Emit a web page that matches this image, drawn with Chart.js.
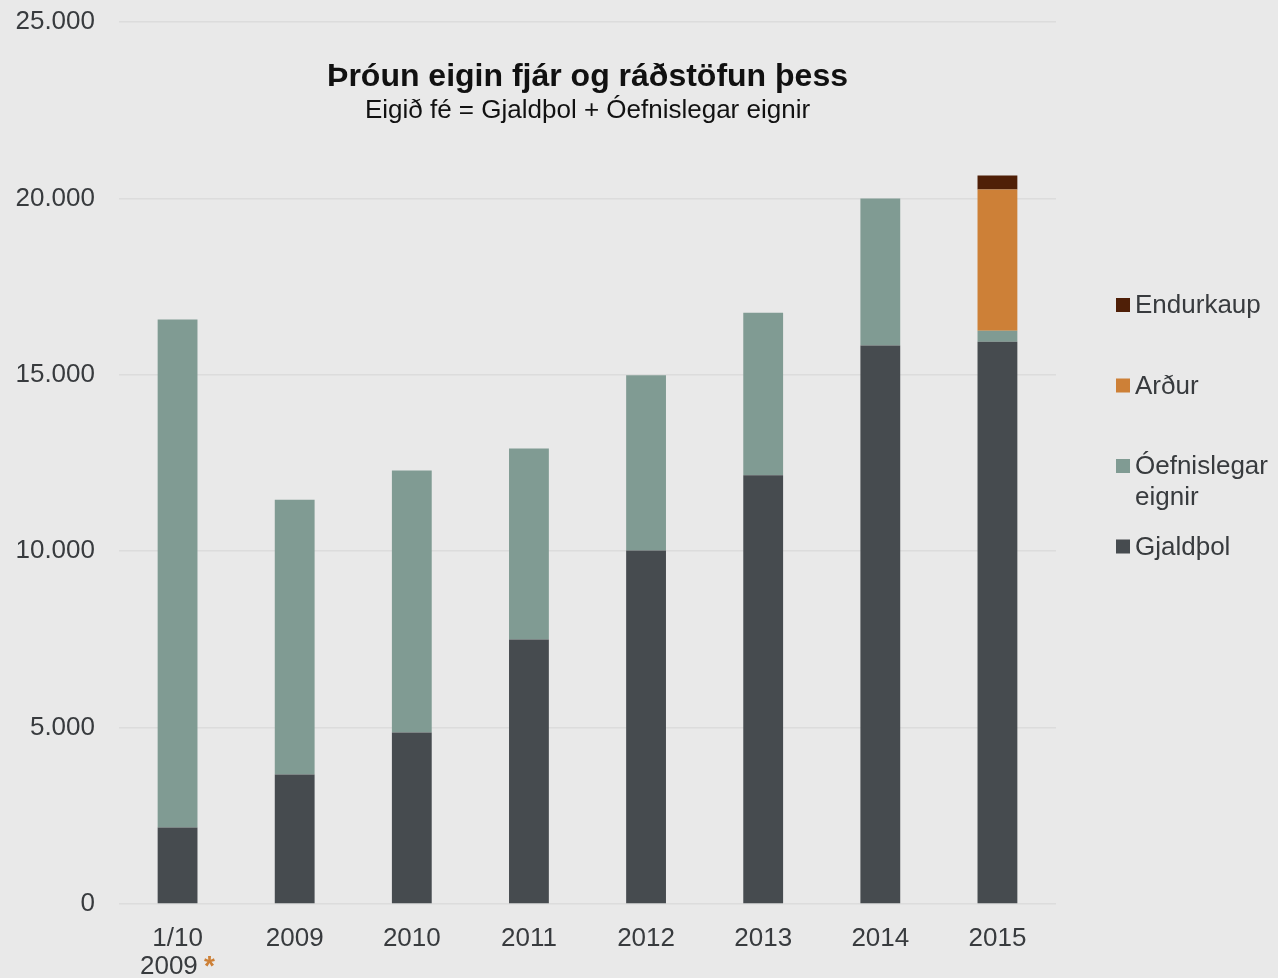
<!DOCTYPE html>
<html>
<head>
<meta charset="utf-8">
<script src="https://cdn.jsdelivr.net/npm/chart.js@4"></script>
<style>
  html, body { margin: 0; padding: 0; background: #e9e9e9; }
  #wrap { width: 1278px; height: 978px; position: relative; }
</style>
</head>
<body>
<div id="wrap"><canvas id="c"></canvas></div>
<script>
// ---- data ----
const categories = [["1/10", "2009 *"], "2009", "2010", "2011", "2012", "2013", "2014", "2015"];
const gjaldthol   = [2170, 3670, 4860, 7500, 10020, 12150, 15830, 15940];
const oefnislegar = [14400, 7790, 7430, 5410, 4970, 4610, 4170, 310];
const ardur       = [null, null, null, null, null, null, null, 4000];
const endurkaup   = [null, null, null, null, null, null, null, 400];
const seriesNames = ["Gjaldþol", "Óefnislegar eignir", "Arður", "Endurkaup"];
const yMax = 25000, yStep = 5000;
const titleText = "Þróun eigin fjár og ráðstöfun þess";
const subtitleText = "Eigið fé = Gjaldþol + Óefnislegar eignir";

// ---- styles ----
const BG = "#e9e9e9";
const FONT = "'Liberation Sans', Arial, sans-serif";
const TEXT = "#383b3e";
const colors = ["#464b4f", "#809b93", "#cd8037", "#4f1f07"];

const titlePlugin = {
  id: "titlePlugin",
  afterDraw(chart) {
    const ctx = chart.ctx, ca = chart.chartArea;
    const cx = (ca.left + ca.right) / 2;
    ctx.save();
    ctx.textAlign = "center";
    ctx.textBaseline = "middle";
    ctx.fillStyle = "#111";
    ctx.font = "bold 32px " + FONT;
    ctx.fillText(titleText, cx, 77);
    ctx.font = "26px " + FONT;
    ctx.fillText(subtitleText, cx, 111);
    ctx.restore();
  }
};

const legendPlugin = {
  id: "legendPlugin",
  afterDraw(chart) {
    const ctx = chart.ctx;
    const ds = chart.data.datasets;
    const x0 = 1116, box = 14, tx = 1135, maxW = 1278 - tx - 2;
    const startY = 305, step = 80.5, lineH = 31;
    ctx.save();
    ctx.font = "26px " + FONT;
    ctx.textBaseline = "middle";
    ctx.textAlign = "left";
    for (let k = 0; k < ds.length; k++) {
      const d = ds[ds.length - 1 - k];
      const cy = startY + k * step;
      ctx.fillStyle = d.backgroundColor;
      ctx.fillRect(x0, cy - box / 2, box, box);
      const words = d.label.split(" ");
      const lines = [];
      let cur = "";
      for (const w of words) {
        const t = cur ? cur + " " + w : w;
        if (cur && ctx.measureText(t).width > maxW) { lines.push(cur); cur = w; }
        else cur = t;
      }
      if (cur) lines.push(cur);
      ctx.fillStyle = TEXT;
      lines.forEach((ln, i) => ctx.fillText(ln, tx, cy + 1 + i * lineH));
    }
    ctx.restore();
  }
};

const asteriskPlugin = {
  id: "asteriskPlugin",
  afterDraw(chart) {
    const sc = chart.scales.x;
    if (!sc.getLabelItems) return;
    const items = sc.getLabelItems();
    if (!items || !items.length) return;
    const it = items[0];
    if (!Array.isArray(it.label)) return;
    const line = it.label[1];
    const ctx = chart.ctx;
    ctx.save();
    ctx.font = it.font.string;
    const tx = it.options.translation[0], ty = it.options.translation[1];
    const y = ty + it.textOffset + it.font.lineHeight;
    const w = ctx.measureText(line).width;
    const aw = ctx.measureText("*").width;
    const xr = tx + w / 2;
    ctx.fillStyle = BG;
    ctx.fillRect(xr - aw - 1, y - it.font.lineHeight / 2, aw + 3, it.font.lineHeight);
    ctx.fillStyle = "#cd8037";
    ctx.textAlign = "left";
    ctx.textBaseline = "middle";
    ctx.font = "bold 28px " + FONT;
    ctx.fillText("*", xr - aw - 1, y);
    ctx.restore();
  }
};

const mk = (i, data) => ({
  label: seriesNames[i],
  data: data,
  backgroundColor: colors[i],
  borderWidth: 0,
  barPercentage: 0.34,
  categoryPercentage: 1.0,
  stack: "s"
});

new Chart(document.getElementById("c"), {
  type: "bar",
  data: {
    labels: categories,
    datasets: [mk(0, gjaldthol), mk(1, oefnislegar), mk(2, ardur), mk(3, endurkaup)]
  },
  options: {
    responsive: true,
    maintainAspectRatio: false,
    animation: false,
    layout: { padding: { left: 14, right: 222, top: 22, bottom: 0 } },
    plugins: { legend: { display: false }, title: { display: false }, tooltip: { enabled: false } },
    scales: {
      x: {
        stacked: true,
        grid: { display: false, drawTicks: false },
        border: { display: false },
        afterFit: s => { s.height = 74; },
        ticks: { color: TEXT, font: { family: FONT, size: 26, lineHeight: 1.08 }, padding: 21, maxRotation: 0, autoSkip: false }
      },
      y: {
        stacked: true,
        min: 0, max: yMax,
        grid: { color: "#dcdcdc", lineWidth: 1.5, drawTicks: false },
        border: { display: false },
        afterFit: s => { s.width = 105; s.paddingTop = 0; s.paddingBottom = 0; },
        ticks: {
          stepSize: yStep,
          color: TEXT,
          padding: 24,
          font: { family: FONT, size: 26 },
          callback: v => String(v).replace(/\B(?=(\d{3})+(?!\d))/g, ".")
        }
      }
    }
  },
  plugins: [titlePlugin, legendPlugin, asteriskPlugin]
});
</script>
</body>
</html>
